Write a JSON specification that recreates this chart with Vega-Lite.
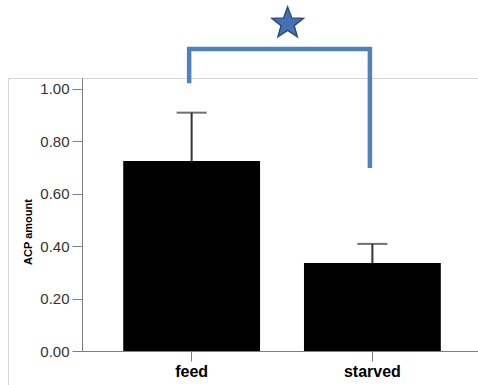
{
  "$schema": "https://vega.github.io/schema/vega-lite/v6.json",
  "width": 470,
  "height": 307,
  "autosize": {"type": "none"},
  "padding": {"left": 8, "top": 78, "right": 0, "bottom": 0},
  "background": "white",
  "config": {
    "font": "Liberation Sans",
    "view": {"stroke": "#d6d6d6", "strokeWidth": 1}
  },
  "datasets": {
    "bars": [
      {"group": "feed", "mean": 0.724, "upper": 0.908},
      {"group": "starved", "mean": 0.335, "upper": 0.408}
    ],
    "bracket": [
      {"group": "feed", "y": 1.02, "order": 1},
      {"group": "feed", "y": 1.15, "order": 2},
      {"group": "starved", "y": 1.15, "order": 3},
      {"group": "starved", "y": 0.697, "order": 4}
    ],
    "star": [
      {"group": "feed", "y": 1.2476}
    ]
  },
  "encoding": {
    "x": {
      "field": "group",
      "type": "nominal",
      "sort": ["feed", "starved"],
      "scale": {"paddingInner": 0.243, "paddingOuter": 0.4216, "align": 0.756},
      "axis": {
        "title": null,
        "offset": -34,
        "domainDash": [0, 74, 1000],
        "domainColor": "#7f7f7f",
        "tickColor": "#7f7f7f",
        "tickSize": 10,
        "labelFontSize": 16,
        "labelFontWeight": "bold",
        "labelColor": "#000000",
        "labelPadding": 2,
        "labelAngle": 0,
        "grid": false
      }
    }
  },
  "layer": [
    {
      "data": {"name": "bars"},
      "mark": {"type": "bar", "color": "#000000"},
      "encoding": {
        "y": {
          "field": "mean",
          "type": "quantitative",
          "scale": {"domain": [-0.1295, 1.04], "nice": false, "zero": false},
          "axis": {
            "title": "ACP amount",
            "offset": -74,
            "values": [0, 0.2, 0.4, 0.6, 0.8, 1],
            "format": ".2f",
            "domainDash": [0, 34, 1000],
            "domainColor": "#7f7f7f",
            "tickColor": "#7f7f7f",
            "tickSize": 10,
            "labelFontSize": 15,
            "labelColor": "#333333",
            "labelPadding": 3,
            "grid": false,
            "titleFontSize": 11,
            "titleFontWeight": "bold",
            "titleColor": "#000000",
            "titlePadding": 6
          }
        },
        "y2": {"datum": 0}
      }
    },
    {
      "data": {"name": "bars"},
      "mark": {"type": "rule", "color": "#333333", "strokeWidth": 2},
      "encoding": {
        "y": {"field": "mean", "type": "quantitative"},
        "y2": {"field": "upper"}
      }
    },
    {
      "data": {"name": "bars"},
      "mark": {"type": "tick", "color": "#333333", "size": 30, "thickness": 2},
      "encoding": {
        "y": {"field": "upper", "type": "quantitative"}
      }
    },
    {
      "data": {"name": "bracket"},
      "mark": {"type": "line", "color": "#4f81bd", "strokeWidth": 4.5, "strokeJoin": "miter", "strokeCap": "butt", "clip": false, "xOffset": -2.5},
      "encoding": {
        "y": {"field": "y", "type": "quantitative"},
        "order": {"field": "order", "type": "quantitative"}
      }
    },
    {
      "data": {"name": "star"},
      "mark": {
        "type": "point",
        "shape": "M0,-1L0.247,-0.34L0.951,-0.309L0.399,0.13L0.588,0.809L0,0.42L-0.588,0.809L-0.399,0.13L-0.951,-0.309L-0.247,-0.34Z",
        "size": 1089,
        "filled": true,
        "fill": "#4472b0",
        "stroke": "#2c4d7c",
        "strokeWidth": 1.5,
        "opacity": 1,
        "xOffset": 96,
        "clip": false
      },
      "encoding": {
        "y": {"field": "y", "type": "quantitative"}
      }
    }
  ]
}
